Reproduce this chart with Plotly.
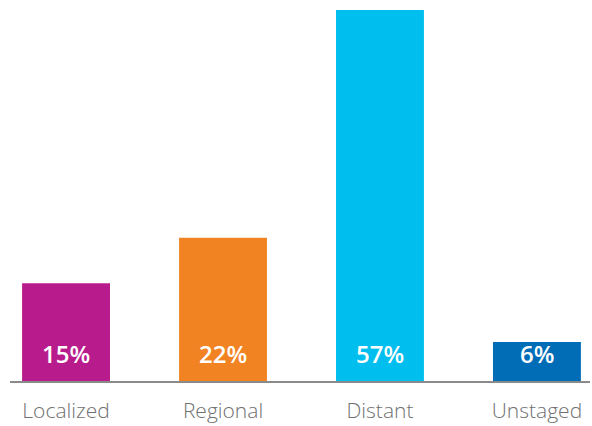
import plotly.graph_objects as go

# Share of cases by stage at diagnosis
stages = ["Localized", "Regional", "Distant", "Unstaged"]
percent = [15, 22, 57, 6]
bar_colors = ["#B81C8C", "#F28322", "#00BEEE", "#016DB7"]

fig = go.Figure(
    go.Bar(
        x=stages,
        y=percent,
        marker=dict(color=bar_colors, line=dict(width=0)),
        hoverinfo="skip",
    )
)

# White value labels sitting near the base of each bar
for s, v in zip(stages, percent):
    fig.add_annotation(
        x=s, y=0, text=f"{v}%", showarrow=False,
        yanchor="bottom", yshift=9,
        font=dict(family="Open Sans", size=24, color="white", weight=600),
    )

fig.update_layout(
    width=592, height=426,
    margin=dict(l=10, r=2, t=10, b=37),
    paper_bgcolor="white", plot_bgcolor="white",
    bargap=0.44,
    showlegend=False,
    xaxis=dict(
        range=[-0.357, 3.338],
        showline=True, linecolor="#8a8a8a", linewidth=2,
        showgrid=False, zeroline=False, ticks="",
        ticklabelstandoff=10,
        tickfont=dict(family="Open Sans", size=21, color="#707070", weight=300),
    ),
    yaxis=dict(range=[0, 57], visible=False),
)

fig.write_html("out.html")
